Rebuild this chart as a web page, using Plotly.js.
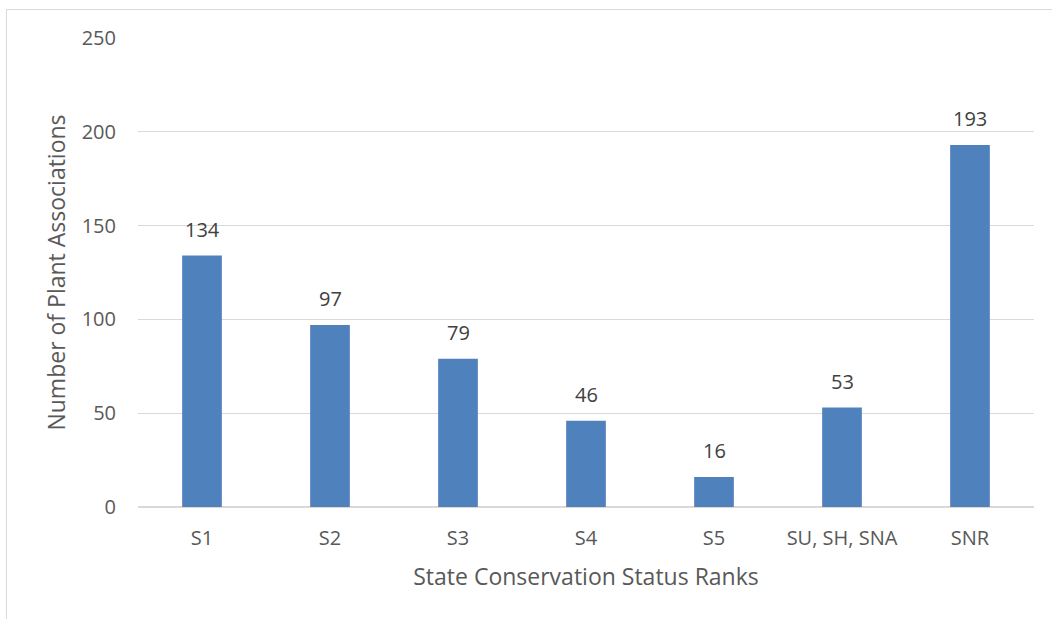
<!DOCTYPE html>
<html>
<head>
<meta charset="utf-8">
<script src="https://cdn.plot.ly/plotly-3.0.1.min.js"></script>
<style>
  html, body { margin: 0; padding: 0; background: #fff; }
  #wrap { position: relative; width: 1052px; height: 619px; overflow: hidden; }
  #chart { position: absolute; left: 0; top: 0; width: 1052px; height: 619px; }
  #frame { position: absolute; left: 6px; top: 9px; width: 1100px; height: 700px;
           border-left: 1px solid #d9d9d9; border-top: 1px solid #d9d9d9; pointer-events: none; }
</style>
</head>
<body>
<div id="wrap">
  <div id="chart"></div>
  <div id="frame"></div>
</div>
<script>
// Plant associations by state conservation status rank
const ranks = ["S1", "S2", "S3", "S4", "S5", "SU, SH, SNA", "SNR"];
const counts = [134, 97, 79, 46, 16, 53, 193];
const yTicks = [0, 50, 100, 150, 200, 250];

const font = "Open Sans, Liberation Sans, sans-serif";
const grey = "#595959";

const trace = {
  type: "bar",
  x: ranks,
  y: counts,
  marker: { color: "#4f81bd" },
  hoverinfo: "x+y"
};

// value labels sit a little above each bar
const valueLabels = ranks.map((r, i) => ({
  x: r,
  y: counts[i],
  xref: "x",
  yref: "y",
  text: String(counts[i]),
  showarrow: false,
  yanchor: "bottom",
  yshift: 11,
  font: { family: font, size: 20, color: "#404040" }
}));

const layout = {
  width: 1052,
  height: 619,
  margin: { l: 138, r: 18, t: 38, b: 112 },
  paper_bgcolor: "#ffffff",
  plot_bgcolor: "#ffffff",
  bargap: 0.69,
  showlegend: false,
  font: { family: font, color: grey, size: 20 },
  annotations: valueLabels,
  xaxis: {
    type: "category",
    showgrid: false,
    zeroline: false,
    showline: false,
    ticks: "outside",
    ticklen: 13,
    tickcolor: "rgba(0,0,0,0)",
    tickfont: { family: font, size: 20, color: grey },
    title: { text: "State Conservation Status Ranks", font: { family: font, size: 23, color: grey }, standoff: 18 }
  },
  yaxis: {
    range: [0, 250],
    tickvals: yTicks,
    ticktext: yTicks.map(String),
    showgrid: true,
    gridcolor: "#d9d9d9",
    gridwidth: 1.3,
    zeroline: true,
    zerolinecolor: "#d9d9d9",
    zerolinewidth: 1.3,
    showline: false,
    ticks: "outside",
    ticklen: 17,
    tickcolor: "rgba(0,0,0,0)",
    tickfont: { family: font, size: 20, color: grey },
    title: { text: "Number of Plant Associations", font: { family: font, size: 23, color: grey }, standoff: 9 }
  }
};

Plotly.newPlot("chart", [trace], layout, { staticPlot: true, displayModeBar: false });
</script>
</body>
</html>
